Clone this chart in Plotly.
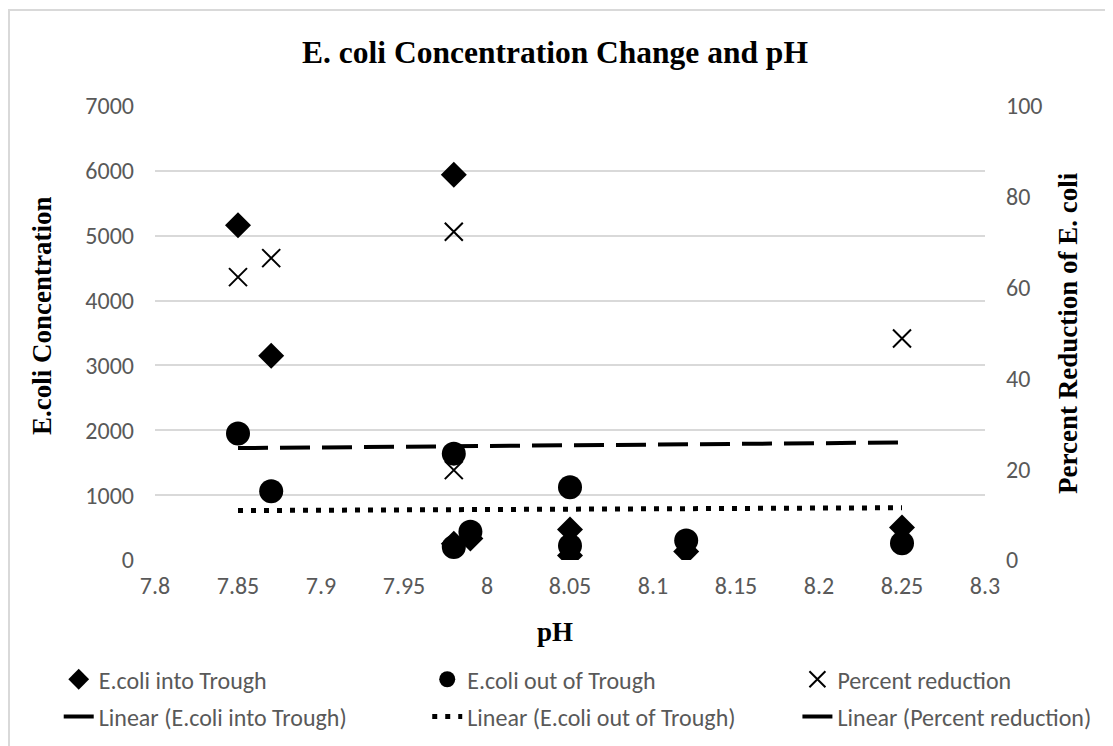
import plotly.graph_objects as go

# pH of each sample
ph = [7.85, 7.87, 7.98, 7.98, 7.99, 8.05, 8.05, 8.12, 8.25]
# E.coli concentration into / out of the trough
ecoli_into = [5160, 3150, 5940, 250, 330, 470, 70, 130, 500]
ecoli_out = [1950, 1060, 1640, 200, 437, 1120, 220, 300, 260]

# percent reduction (only the positive ones show on the 0-100 axis)
ph_pct = [7.85, 7.87, 7.98, 7.98, 8.25]
pct_reduction = [62.3, 66.5, 72.3, 19.8, 48.8]

# trendline end points as drawn in the chart
trend_ph = [7.85, 8.25]
trend_into = [1725, 1812]
trend_out = [762, 806]

serif = "Times New Roman, Liberation Serif, serif"
sans = "Calibri, Lato, sans-serif"
tick_grey = "#595959"
grid_grey = "#d9d9d9"

fig = go.Figure()

# markers
fig.add_trace(go.Scatter(
    x=ph, y=ecoli_into, mode="markers", name="E.coli into Trough",
    marker=dict(symbol="diamond", size=20, color="black"),
    legend="legend", legendgroup="a1",
))
fig.add_trace(go.Scatter(
    x=ph, y=ecoli_out, mode="markers", name="E.coli out of Trough",
    marker=dict(symbol="circle", size=24, color="black"),
    legend="legend2", legendgroup="b1",
))
fig.add_trace(go.Scatter(
    x=ph_pct, y=pct_reduction, mode="markers", name="Percent reduction",
    marker=dict(symbol="x-thin", size=18, color="black",
                line=dict(color="black", width=2)),
    yaxis="y2", legend="legend3", legendgroup="c1",
))

# trendlines
fig.add_trace(go.Scatter(
    x=trend_ph, y=trend_into, mode="lines", name="Linear (E.coli into Trough)",
    line=dict(color="black", width=4, dash="30px,12px"),
    legend="legend", legendgroup="a2",
))
fig.add_trace(go.Scatter(
    x=trend_ph, y=trend_out, mode="lines", name="Linear (E.coli out of Trough)",
    line=dict(color="black", width=5, dash="5px,8px"),
    legend="legend2", legendgroup="b2",
))
# the percent-reduction trendline falls below the visible axis range
fig.add_trace(go.Scatter(
    x=[None], y=[None], mode="lines", name="Linear (Percent reduction)",
    line=dict(color="black", width=4),
    yaxis="y2", legend="legend3", legendgroup="c2",
))

legend_style = dict(
    orientation="v", yanchor="top", y=-0.214, xanchor="left",
    font=dict(family=sans, size=24, color=tick_grey),
    tracegroupgap=3, bgcolor="rgba(0,0,0,0)",
)

# the page adds an 8px body margin, so the figure is 8px smaller
fig.update_layout(
    width=1105, height=738,
    margin=dict(l=147, r=128, t=98, b=186, autoexpand=False),
    paper_bgcolor="white", plot_bgcolor="white",
    title=dict(text="<b>E. coli Concentration Change and pH</b>",
               font=dict(family=serif, size=31.5, color="black"),
               x=547 / 1105, xanchor="center",
               y=1 - 44 / 738, yanchor="middle"),
    xaxis=dict(range=[7.8, 8.3], dtick=0.05, tick0=7.8,
               showgrid=False, zeroline=False, showline=False,
               ticks="", ticklabelstandoff=9,
               tickfont=dict(family=sans, size=24, color=tick_grey)),
    yaxis=dict(range=[0, 7000], dtick=1000,
               showgrid=True, gridcolor=grid_grey, gridwidth=1.5,
               zeroline=False, showline=False, ticks="", ticklabelstandoff=20,
               tickfont=dict(family=sans, size=24, color=tick_grey)),
    yaxis2=dict(range=[0, 100], dtick=20, overlaying="y", side="right",
                showgrid=False, zeroline=False, showline=False, ticks="",
                ticklabelstandoff=20,
                tickfont=dict(family=sans, size=24, color=tick_grey)),
    legend=dict(legend_style, x=-0.116),
    legend2=dict(legend_style, x=0.328),
    legend3=dict(legend_style, x=0.774),
    showlegend=True,
)

# axis titles
title_font = dict(family=serif, size=27, color="black")
fig.add_annotation(text="<b>pH</b>", x=(555 - 155) / 830, y=(560 - 632) / 454,
                   xref="paper", yref="paper", showarrow=False,
                   xanchor="center", yanchor="middle", font=title_font)
fig.add_annotation(text="<b>E.coli Concentration</b>", x=(42 - 155) / 830,
                   y=(560 - 316) / 454, xref="paper", yref="paper",
                   showarrow=False, textangle=-90,
                   xanchor="center", yanchor="middle", font=title_font)
fig.add_annotation(text="<b>Percent Reduction of E. coli</b>",
                   x=(1068 - 155) / 830, y=(560 - 333) / 454,
                   xref="paper", yref="paper", showarrow=False, textangle=-90,
                   xanchor="center", yanchor="middle", font=title_font)

# chart-area border (left edge sits at the very left of the figure)
left, right = (-146 / 830), (1111 - 155) / 830
top = (560 - 10) / 454
fig.add_shape(type="path", xref="paper", yref="paper",
              path=f"M {left} -0.6 L {left} {top} L {right} {top} L {right} -0.6",
              line=dict(color=grid_grey, width=2))

fig.write_html("out.html")
